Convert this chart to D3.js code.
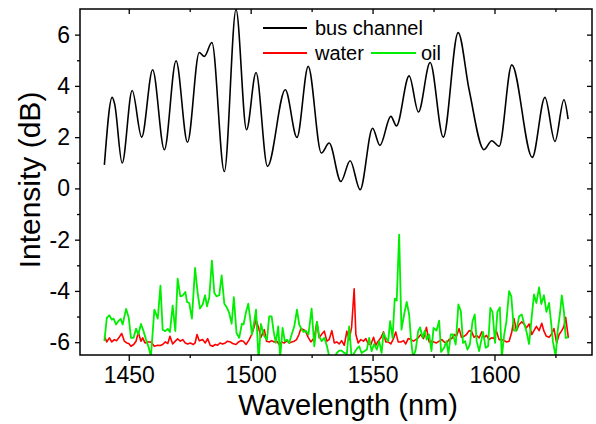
<!DOCTYPE html>
<html><head><meta charset="utf-8">
<script src="https://cdn.jsdelivr.net/npm/d3@7"></script>
<style>body{margin:0;background:#fff}svg{display:block}text{font-family:"Liberation Sans",Arial,sans-serif}</style>
</head><body><svg id="c" width="596" height="424"></svg>
<script>
// ---- data ----
const busWl = [1440,1443.2,1444.2,1447.3,1451.4,1455.3,1459.8,1464.6,1469.4,1474.1,1478.9,1481,1484.1,1489.2,1494,1498.3,1502.2,1506.9,1514.2,1519,1523.6,1529,1532.2,1537,1540.8,1544.9,1550,1553,1557.5,1559.8,1565,1568.8,1573.6,1579,1585.1,1589.6,1595.7,1598.9,1601.9,1607.1,1615.5,1620.7,1624.8,1628.5,1630.2];
const busDb = [0.92,3.55,3.3,0.99,3.82,2.0,4.63,1.51,4.98,1.8,5.3,5.15,5.69,0.66,6.98,2.29,4.52,0.86,3.85,1.99,4.76,1.38,1.77,0.27,1.08,-0.05,2.35,1.68,2.81,2.44,4.39,2.98,4.91,2.0,6.08,3.85,1.51,1.86,1.64,4.82,1.21,3.55,1.83,3.46,2.7];

const waterWl = [1440,1441,1442.05,1443,1444.1,1445.05,1445.9,1447.1,1448.2,1449.15,1450,1450.9,1452,1453,1453.9,1455,1455.7,1456.65,1457.8,1459.1,1460.5,1461.9,1463,1463.9,1465,1466,1466.9,1468,1469.1,1470.05,1471.15,1472.1,1473.2,1474.15,1475.25,1476.5,1477.2,1478,1478.9,1480.3,1481.4,1482.35,1483.4,1484.4,1485.5,1486.45,1487.4,1488.5,1489.6,1490.55,1491.65,1492.6,1494,1495.05,1496,1497,1498.1,1499.4,1500.5,1501.5,1502.2,1503.25,1504.2,1505.6,1506.5,1507.6,1508.6,1509.7,1510.75,1511.7,1512.7,1513.8,1514.9,1515.8,1516.8,1517.9,1518.8,1519.8,1520.6,1521.7,1522.65,1523.6,1524.7,1526.1,1527.15,1528.1,1529.05,1530.2,1531.25,1532.2,1533.3,1534.3,1535.35,1536.3,1537.3,1538.4,1539.45,1540.4,1541.4,1542.45,1543.15,1544.1,1545.2,1546.3,1547.25,1548.2,1549.3,1550.4,1551.3,1552.3,1553.4,1554.5,1555.4,1556.4,1557.5,1558.6,1559.5,1560.5,1561.6,1562.7,1563.6,1564.6,1565.7,1566.8,1567.7,1568.7,1569.8,1570.9,1572.1,1573.2,1574.15,1575,1576.2,1577.3,1578.4,1579.35,1580.3,1581.4,1582.5,1583.45,1584.4,1585.5,1586.45,1587.5,1588.5,1589.6,1590.55,1591.6,1592.6,1593.7,1594.8,1595.7,1596.7,1597.8,1598.75,1599.8,1600.8,1601.9,1603,1603.9,1605,1606,1607.1,1608,1609,1610.1,1611.2,1612.1,1613.1,1614.2,1615.3,1616.2,1617.2,1618.3,1619.4,1620.3,1621.3,1622.4,1623.3,1624.4,1625.5,1626.5,1627.6,1628.5,1629.2,1630.3];
const waterDb = [-5.77,-5.99,-5.83,-5.99,-5.90,-5.94,-5.83,-5.66,-5.96,-6.03,-6.05,-6.16,-6.09,-5.96,-5.61,-5.96,-5.83,-6.03,-5.99,-5.99,-6.16,-6.12,-6.13,-6.09,-5.99,-6.05,-5.77,-6.07,-5.96,-5.87,-5.96,-5.90,-6.03,-6.07,-6.03,-6.09,-6.03,-5.70,-5.94,-5.90,-6.03,-5.86,-6.12,-6.16,-6.09,-6.12,-6.03,-6.07,-6.03,-5.96,-5.99,-6.05,-6.09,-5.99,-5.94,-5.96,-6.09,-5.90,-5.68,-5.38,-5.12,-5.44,-5.81,-5.51,-5.96,-5.99,-5.94,-5.99,-5.96,-6.09,-5.99,-6.03,-5.94,-6.03,-5.99,-5.96,-5.90,-5.70,-5.47,-5.51,-5.60,-5.81,-5.99,-5.83,-5.21,-5.83,-5.70,-5.57,-5.96,-5.90,-5.55,-6.03,-5.99,-6.07,-5.94,-6.12,-5.57,-5.90,-5.42,-3.92,-5.70,-6.03,-5.90,-5.96,-5.86,-6.07,-6.09,-5.81,-6.12,-5.96,-5.83,-5.60,-5.99,-5.99,-6.07,-5.86,-5.60,-5.99,-5.99,-5.94,-6.07,-5.86,-5.90,-5.96,-5.90,-5.83,-5.70,-5.86,-5.42,-5.99,-5.96,-5.99,-6.03,-5.96,-5.90,-5.99,-6.03,-5.90,-5.86,-5.70,-5.77,-5.47,-5.81,-5.77,-5.70,-5.55,-5.57,-5.81,-5.73,-5.83,-5.60,-5.83,-5.73,-5.90,-5.83,-5.86,-5.57,-5.90,-5.90,-5.94,-5.99,-5.96,-5.60,-5.08,-5.55,-5.31,-5.21,-5.29,-5.44,-5.29,-5.70,-5.55,-5.38,-5.55,-5.26,-5.57,-5.77,-5.81,-5.70,-5.47,-6.03,-5.70,-5.55,-5.38,-5.03,-5.83];

const oilWl = [1440,1441,1442.05,1443,1443.8,1444.8,1445.7,1446.7,1447.5,1448.9,1450,1450.9,1452,1453,1453.9,1455,1456,1457.1,1458.2,1459.1,1460.5,1461.9,1463,1463.9,1465,1466,1466.9,1468,1469.1,1470.05,1471.15,1472.1,1473.2,1473.9,1474.8,1475.9,1477.2,1478.25,1479.2,1480.3,1481.3,1482.1,1483,1484.1,1485.1,1486,1487.1,1488.1,1489.2,1490.3,1491.2,1492.2,1493.1,1494.2,1495.3,1496.4,1497.1,1498.1,1499,1499.7,1500.5,1501.5,1502.2,1503.25,1504.2,1505.6,1506.7,1507.6,1508.6,1509.4,1510.35,1511.3,1512.1,1513.1,1514,1514.9,1515.8,1516.8,1517.9,1519,1519.9,1520.9,1521.7,1522.6,1523.7,1525,1526.1,1527.2,1528.1,1529.1,1530.2,1531.3,1532.2,1533.3,1534.3,1535.35,1536.3,1537.3,1538.4,1539.45,1540.4,1541.4,1542.5,1543.55,1544.5,1545.5,1546.55,1547.65,1548.6,1549.6,1550.65,1551.75,1552.7,1553.7,1554.5,1555.4,1556.4,1557.2,1558.2,1559.1,1559.9,1560.9,1561.85,1562.95,1564,1565,1565.7,1566.6,1567.7,1568.7,1569.5,1570.5,1571.4,1572.2,1573.2,1574.15,1575,1576.2,1577.3,1578.1,1579.35,1580.3,1581.1,1582.1,1583,1584.1,1585.2,1586.2,1587.1,1587.95,1588.9,1589.9,1591,1591.9,1592.7,1593.7,1594.8,1595.3,1596.4,1597.4,1598.3,1599.2,1600.25,1601.2,1602.2,1603,1603.9,1604.9,1606,1606.9,1608,1609,1610.1,1611.2,1612.1,1613.1,1614.2,1615.3,1616.2,1617.2,1618.3,1619.2,1620.3,1621.3,1622.4,1623.3,1624,1625.1,1625.9,1626.9,1627.6,1628.5,1629.2,1630.3];
const oilDb = [-5.96,-5.05,-4.95,-5.12,-5.08,-5.31,-5.18,-5.09,-5.31,-4.70,-5.05,-5.83,-5.83,-5.47,-5.70,-5.29,-5.55,-5.90,-6.22,-6.55,-4.73,-5.08,-3.79,-5.51,-5.57,-5.48,-5.60,-4.57,-5.57,-3.52,-4.21,-4.18,-4.04,-4.43,-4.47,-5.08,-3.10,-4.08,-4.69,-4.53,-4.17,-4.60,-4.27,-2.82,-4.08,-4.21,-4.17,-3.39,-4.50,-4.66,-4.86,-5.28,-4.24,-5.64,-5.83,-5.28,-5.31,-4.82,-4.50,-4.99,-5.70,-5.18,-4.73,-6.70,-5.29,-5.77,-5.90,-4.99,-4.99,-5.57,-6.03,-5.38,-6.60,-5.44,-5.96,-5.90,-6.03,-5.70,-5.38,-4.73,-5.31,-5.51,-5.60,-5.55,-5.70,-4.69,-6.16,-5.21,-5.77,-5.96,-5.83,-6.16,-6.55,-6.60,-6.60,-6.42,-6.33,-6.33,-6.42,-6.46,-5.38,-6.60,-6.42,-6.25,-6.16,-6.42,-6.35,-6.29,-5.83,-6.35,-6.07,-6.29,-5.96,-6.42,-5.64,-5.83,-5.96,-5.18,-5.83,-4.30,-4.38,-1.80,-5.51,-4.92,-4.43,-4.92,-5.83,-6.60,-6.29,-5.57,-5.42,-5.83,-5.55,-5.90,-5.70,-6.35,-5.44,-5.55,-5.16,-6.38,-6.22,-5.96,-6.46,-5.70,-5.70,-6.09,-4.53,-4.79,-6.03,-5.96,-6.29,-6.09,-5.18,-4.92,-5.96,-6.35,-5.83,-5.60,-6.22,-6.16,-4.66,-4.82,-6.03,-4.82,-4.64,-6.60,-5.77,-5.18,-4.01,-4.21,-5.55,-5.55,-4.99,-4.92,-5.25,-5.57,-6.07,-4.99,-4.14,-4.47,-3.86,-4.51,-4.17,-4.82,-4.47,-5.31,-5.99,-6.55,-5.57,-4.86,-4.17,-4.82,-5.83,-5.81];

const xTicks = [1450, 1500, 1550, 1600];
const yTicks = [-6, -4, -2, 0, 2, 4, 6];
const legendLabels = ["bus channel", "water", "oil"];
const colors = ["#000000", "#ff0000", "#00ee00"];

// ---- chart ----
const svg = d3.select("#c");
const L = 80, R = 592, T = 9, B = 355;
const x = d3.scaleLinear().domain([1430, 1640]).range([L, R]);
const y = d3.scaleLinear().domain([-6.5, 7]).range([B, T]);

svg.append("clipPath").attr("id","clip").append("rect")
  .attr("x", L).attr("y", T).attr("width", R-L).attr("height", B-T);

const line = d3.line().x(d=>x(d[0])).y(d=>y(d[1]));
const lineSmooth = d3.line().x(d=>x(d[0])).y(d=>y(d[1])).curve(d3.curveMonotoneX);
const g = svg.append("g").attr("clip-path","url(#clip)");
g.append("path").attr("d", lineSmooth(d3.zip(busWl, busDb))).attr("fill","none").attr("stroke",colors[0]).attr("stroke-width",1.6);
g.append("path").attr("d", line(d3.zip(waterWl, waterDb))).attr("fill","none").attr("stroke",colors[1]).attr("stroke-width",1.6).attr("stroke-linejoin","round");
g.append("path").attr("d", line(d3.zip(oilWl, oilDb))).attr("fill","none").attr("stroke",colors[2]).attr("stroke-width",1.8).attr("stroke-linejoin","round");

// axes
const minorX = [1475, 1525, 1575, 1625];
const minorY = [-5, -3, -1, 1, 3, 5];
svg.append("g").attr("transform",`translate(0,${B})`).call(d3.axisBottom(x).tickValues(xTicks).tickSize(6).tickPadding(6).tickFormat(d3.format("d")));
svg.append("g").attr("transform",`translate(0,${B})`).call(d3.axisBottom(x).tickValues(minorX).tickSize(3).tickFormat(""));
svg.append("g").attr("transform",`translate(${L},0)`).call(d3.axisLeft(y).tickValues(yTicks).tickSize(5).tickPadding(5).tickFormat(d=>String(d)));
svg.append("g").attr("transform",`translate(${L},0)`).call(d3.axisLeft(y).tickValues(minorY).tickSize(3).tickFormat(""));
svg.append("g").attr("transform",`translate(0,${T})`).call(d3.axisBottom(x).tickValues(xTicks).tickSize(5).tickFormat(""));
svg.append("g").attr("transform",`translate(0,${T})`).call(d3.axisBottom(x).tickValues(minorX).tickSize(3).tickFormat(""));
svg.append("g").attr("transform",`translate(${R},0)`).call(d3.axisLeft(y).tickValues(yTicks).tickSize(5).tickFormat(""));
svg.append("g").attr("transform",`translate(${R},0)`).call(d3.axisLeft(y).tickValues(minorY).tickSize(3).tickFormat(""));
svg.selectAll(".domain").remove();
svg.selectAll(".tick line").attr("stroke","#000").attr("stroke-width",1.3);
svg.selectAll(".tick text").attr("fill","#000").style("font-size","23px");
svg.append("rect").attr("x",L).attr("y",T).attr("width",R-L).attr("height",B-T)
  .attr("fill","none").attr("stroke","#000").attr("stroke-width",1.5);

// titles
svg.append("text").attr("x", 348).attr("y", 415).attr("text-anchor","middle").style("font-size","29px").text("Wavelength (nm)");
svg.append("text").attr("transform","translate(40,180) rotate(-90)").attr("text-anchor","middle").style("font-size","30px").text("Intensity (dB)");

// legend
const leg = svg.append("g");
const legItems = [
  {x1:263, x2:307, y:28, tx:315, label:legendLabels[0], c:colors[0]},
  {x1:263, x2:307, y:53, tx:315, label:legendLabels[1], c:colors[1]},
  {x1:371, x2:416, y:53, tx:421, label:legendLabels[2], c:colors[2]}
];
legItems.forEach(d=>{
  leg.append("line").attr("x1",d.x1).attr("x2",d.x2).attr("y1",d.y).attr("y2",d.y).attr("stroke",d.c).attr("stroke-width",1.8);
  leg.append("text").attr("x",d.tx).attr("y",d.y+7).style("font-size","20px").text(d.label);
});
</script></body></html>
